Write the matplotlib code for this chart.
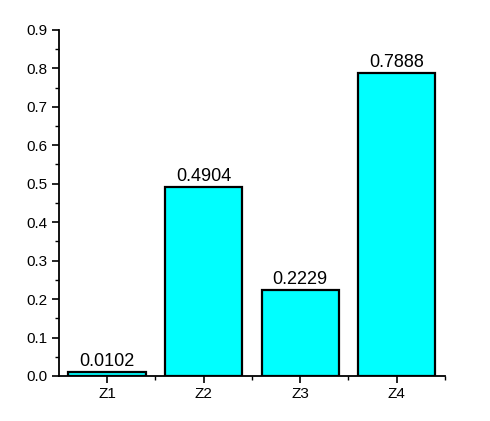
import matplotlib
matplotlib.use('Agg')
import matplotlib.pyplot as plt
from matplotlib.ticker import MultipleLocator, FixedLocator

categories = ['Z1', 'Z2', 'Z3', 'Z4']
values = [0.0102, 0.4904, 0.2229, 0.7888]
labels = ['0.0102', '0.4904', '0.2229', '0.7888']

plt.rcParams['font.family'] = ['Liberation Sans', 'DejaVu Sans']

fig = plt.figure(figsize=(4.9, 4.21), dpi=100)
ax = fig.add_axes([0.120, 0.107, 0.788, 0.822])

x = list(range(1, len(categories) + 1))
bars = ax.bar(x, values, width=0.8, color='#00FFFF', edgecolor='black', linewidth=1.6)

for b, lab in zip(bars, labels):
    ax.text(b.get_x() + b.get_width() / 2, b.get_height() + 0.005, lab,
            ha='center', va='bottom', fontsize=13, color='black')

ax.set_xlim(0.5, 4.5)
ax.set_ylim(0, 0.9)
ax.set_xticks(x)
ax.set_xticklabels(categories)
ax.xaxis.set_minor_locator(FixedLocator([1.5, 2.5, 3.5, 4.5]))
ax.yaxis.set_major_locator(MultipleLocator(0.1))
ax.yaxis.set_minor_locator(MultipleLocator(0.05))
ax.yaxis.set_major_formatter(matplotlib.ticker.FormatStrFormatter('%.1f'))

ax.spines['top'].set_visible(False)
ax.spines['right'].set_visible(False)
for s in ('left', 'bottom'):
    ax.spines[s].set_linewidth(1.3)

ax.tick_params(which='major', direction='out', length=5, width=1.2, labelsize=11, pad=3)
ax.tick_params(which='minor', direction='out', length=3, width=1.0)

fig.savefig('out.png', dpi=100, facecolor='white')
